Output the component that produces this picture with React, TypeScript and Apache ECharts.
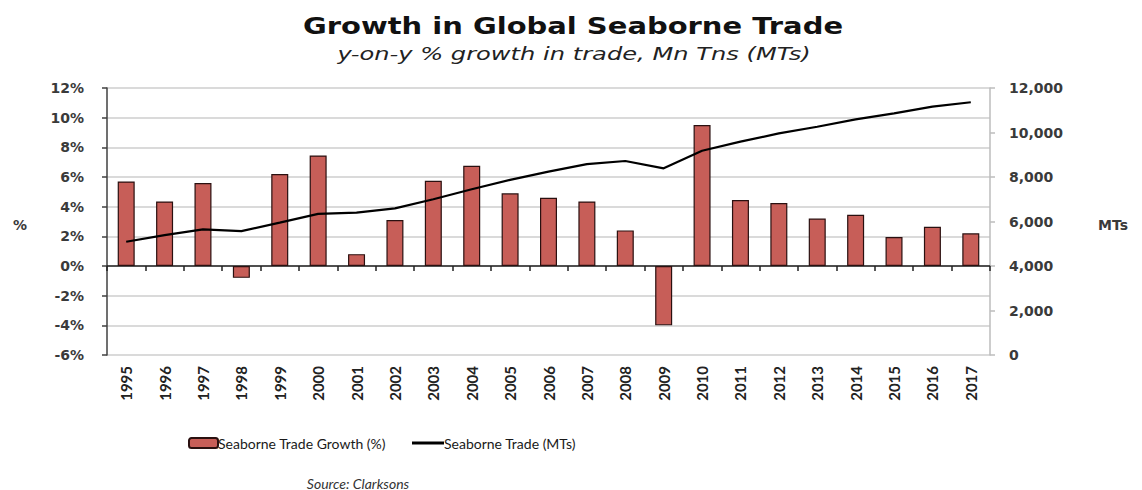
import React, { useEffect, useRef } from "react";
import * as echarts from "echarts";

const years = [
  "1995", "1996", "1997", "1998", "1999", "2000", "2001", "2002", "2003", "2004", "2005", "2006",
  "2007", "2008", "2009", "2010", "2011", "2012", "2013", "2014", "2015", "2016", "2017",
];
const growthPct = [
  5.7, 4.35, 5.6, -0.8, 6.2, 7.45, 0.8, 3.1, 5.75, 6.75, 4.9, 4.6,
  4.35, 2.4, -4.0, 9.5, 4.45, 4.25, 3.2, 3.45, 1.95, 2.65, 2.2,
];
const tradeMTs = [
  5090, 5390, 5650, 5570, 5950, 6340, 6400, 6590, 7000, 7450, 7870, 8240,
  8580, 8720, 8390, 9180, 9590, 9960, 10260, 10590, 10860, 11160, 11360,
];
const leftTicks = { min: -6, max: 12, interval: 2 };
const rightTicks = { min: 0, max: 12000, interval: 2000 };

const TITLE = "Growth in Global Seaborne Trade";
const SUBTITLE = "y-on-y % growth in trade, Mn Tns (MTs)";
const SOURCE = "Source: Clarksons";
const BAR_NAME = "Seaborne Trade Growth (%)";
const LINE_NAME = "Seaborne Trade (MTs)";

export default function App() {
  const ref = useRef<HTMLDivElement>(null);
  useEffect(() => {
    document.body.style.margin = "0";
    const chart = echarts.init(ref.current!, null, { renderer: "svg" });
    const tickFont = {
      fontFamily: "DejaVu Sans",
      fontWeight: "bold" as const,
      fontSize: 14,
      color: "#3a3a3a",
    };
    const legendText = { fontFamily: "Lato", fontSize: 14, color: "#1a1a1a", padding: [0, 0, 0, -5] };
    chart.setOption({
      animation: false,
      backgroundColor: "#ffffff",
      grid: { left: 107, right: 152, top: 88, bottom: 135, containLabel: false },
      legend: [
        {
          left: 188,
          top: 436,
          padding: 0,
          itemWidth: 29,
          itemHeight: 10,
          textStyle: legendText,
          data: [{ name: BAR_NAME }],
        },
        {
          left: 412,
          top: 436,
          padding: 0,
          itemWidth: 32,
          itemHeight: 3,
          textStyle: legendText,
          data: [{ name: LINE_NAME, icon: "rect", itemStyle: { color: "#000" } }],
        },
      ],
      graphic: [
        {
          type: "text",
          x: 573,
          y: 26,
          scaleX: 1.26,
          style: {
            text: TITLE,
            font: "bold 23px 'DejaVu Sans'",
            fill: "#111",
            textAlign: "center",
            textVerticalAlign: "middle",
          },
        },
        {
          type: "text",
          x: 574,
          y: 54,
          scaleX: 1.38,
          style: {
            text: SUBTITLE,
            font: "italic 17.5px 'DejaVu Sans'",
            fill: "#222",
            textAlign: "center",
            textVerticalAlign: "middle",
          },
        },
        {
          type: "text",
          x: 20,
          y: 225,
          style: {
            text: "%",
            font: "bold 14px 'DejaVu Sans'",
            fill: "#3a3a3a",
            textAlign: "center",
            textVerticalAlign: "middle",
          },
        },
        {
          type: "text",
          x: 1113,
          y: 225,
          style: {
            text: "MTs",
            font: "bold 14px 'DejaVu Sans'",
            fill: "#3a3a3a",
            textAlign: "center",
            textVerticalAlign: "middle",
          },
        },
        {
          type: "text",
          x: 358,
          y: 483,
          style: {
            text: SOURCE,
            font: "italic 14px Lato",
            fill: "#333",
            textAlign: "center",
            textVerticalAlign: "middle",
          },
        },
      ],
      xAxis: [
        {
          type: "category",
          data: years,
          boundaryGap: true,
          axisLine: { show: true, onZero: true, lineStyle: { color: "#222", width: 1.5 } },
          axisTick: { show: true, inside: false, length: 5, lineStyle: { color: "#222", width: 1.5 } },
          axisLabel: { show: false },
          splitLine: { show: false },
        },
        {
          type: "category",
          data: years,
          position: "bottom",
          boundaryGap: true,
          axisLine: { show: false, onZero: false },
          axisTick: { show: false },
          axisLabel: {
            show: true,
            rotate: 90,
            margin: 11,
            fontFamily: "Lato",
            fontWeight: "bold",
            fontSize: 15,
            color: "#222",
            interval: 0,
          },
          splitLine: { show: false },
        },
      ],
      yAxis: [
        {
          type: "value",
          min: leftTicks.min,
          max: leftTicks.max,
          interval: leftTicks.interval,
          axisLine: { show: true, lineStyle: { color: "#404040", width: 1.5 } },
          axisTick: { show: true, length: 5, lineStyle: { color: "#404040", width: 1.5 } },
          axisLabel: { ...tickFont, margin: 23, formatter: (v: number) => `${v}%` },
          splitLine: { show: true, lineStyle: { color: "#dadada", width: 2 } },
        },
        {
          type: "value",
          min: rightTicks.min,
          max: rightTicks.max,
          interval: rightTicks.interval,
          position: "right",
          axisLine: { show: true, lineStyle: { color: "#bdbdbd", width: 1.5 } },
          axisTick: { show: true, length: 5, lineStyle: { color: "#bdbdbd", width: 1.5 } },
          axisLabel: {
            ...tickFont,
            margin: 19,
            formatter: (v: number) => v.toLocaleString("en-US"),
          },
          splitLine: { show: false },
        },
      ],
      series: [
        {
          name: BAR_NAME,
          type: "bar",
          xAxisIndex: 0,
          yAxisIndex: 0,
          data: growthPct,
          barWidth: 17,
          itemStyle: { color: "#C75E58", borderColor: "#2a1010", borderWidth: 1.2 },
        },
        {
          name: LINE_NAME,
          type: "line",
          xAxisIndex: 0,
          yAxisIndex: 1,
          data: tradeMTs,
          symbol: "none",
          lineStyle: { color: "#000", width: 2.2 },
          itemStyle: { color: "#000" },
          z: 5,
        },
      ],
    });
    return () => chart.dispose();
  }, []);
  return (
    <div
      ref={ref}
      style={{ position: "fixed", left: 0, top: 0, width: 1142, height: 490 }}
    />
  );
}
